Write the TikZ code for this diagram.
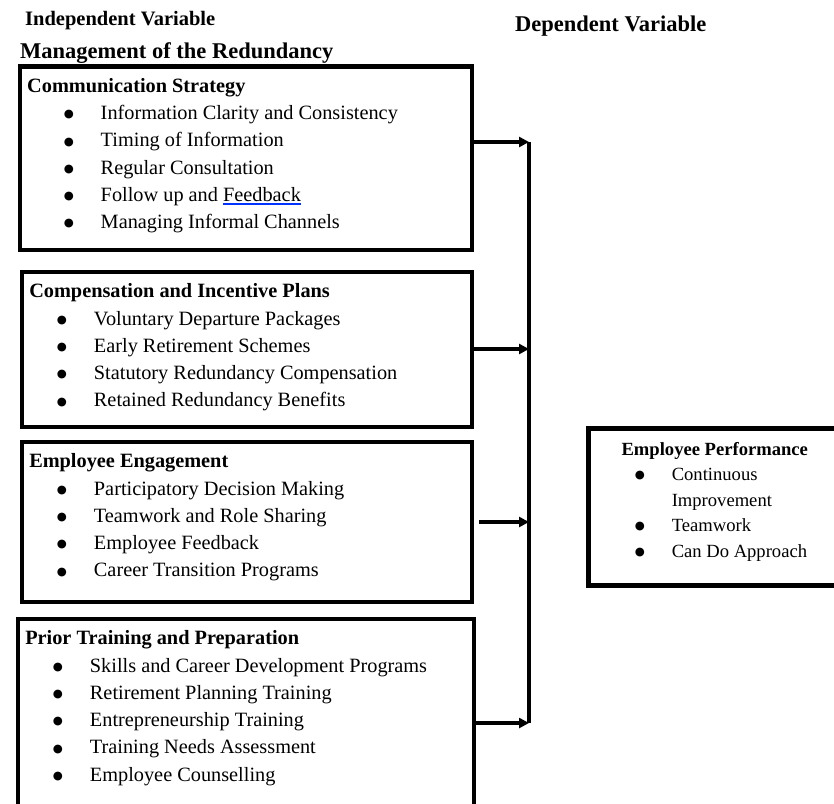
\documentclass[tikz,border=0pt]{standalone}
\usepackage{fontspec}
\setmainfont{Liberation Serif}
\newfontfamily\dotfont{DejaVu Sans}
\usepackage{xcolor}
\usepackage{tikz}
\usetikzlibrary{arrows.meta, positioning, calc}

\newlength{\bltin}
\newcommand{\bigdot}{\raisebox{1.8pt}{\dotfont\fontsize{11.5}{12}\selectfont ●}}
\newcommand{\blt}[1]{\par\hspace*{\bltin}\makebox[36.5pt][l]{\hspace*{-0.5pt}\bigdot}#1}
\newcommand{\catlist}[5]{%
  \parbox[c][#1][t]{#2}{\fontsize{20.3}{27.3}\selectfont\raggedright
    \setlength{\bltin}{#3}%
    \rule{0pt}{26pt}\hspace*{7.5pt}\textbf{#4}#5}}
\newcommand{\spellmark}[1]{\setbox0\hbox{#1}\rlap{\textcolor{blue!80!cyan}{\rule[-3.2pt]{\wd0}{1.2pt}}}\box0}

\begin{document}
\begin{tikzpicture}[
    x=1pt, y=-1pt,
    catbox/.style={draw, line width=4.5pt, inner sep=0pt, anchor=north west},
    header/.style={inner sep=0pt, anchor=base west},
    arrow/.style={-{Triangle[length=10pt,width=10pt]}, line width=3.5pt},
    bus/.style={line width=4.5pt}
]
    \useasboundingbox (0,0) rectangle (834,803);

    % Headings
    \node[header, font=\fontsize{20.5}{24}\selectfont\bfseries] (indep) at (25,25) {Independent Variable};
    \node[header, font=\fontsize{22.5}{26}\selectfont\bfseries] (mgmt) at (20,58) {Management of the Redundancy};
    \node[header, font=\fontsize{22.5}{26}\selectfont\bfseries] (dep) at (515,31) {Dependent Variable};

    % Independent variable boxes
    \node[catbox] (comm) at (17.5,64) {\catlist{183.5pt}{452pt}{44.5pt}{Communication Strategy}{%
        \blt{Information Clarity and Consistency}\blt{Timing of Information}\blt{Regular Consultation}%
        \blt{Follow up and \spellmark{Feedback}}\blt{Managing Informal Channels}}};
    \node[catbox] (comp) at (19.5,269.5) {\catlist{155pt}{450pt}{35.7pt}{Compensation and Incentive Plans}{%
        \blt{Voluntary Departure Packages}\blt{Early Retirement Schemes}%
        \blt{Statutory Redundancy Compensation}\blt{Retained Redundancy Benefits}}};
    \node[catbox] (engage) at (19.5,439.5) {\catlist{160pt}{450pt}{35.7pt}{Employee Engagement}{%
        \blt{Participatory Decision Making}\blt{Teamwork and Role Sharing}%
        \blt{Employee Feedback}\blt{Career Transition Programs}}};
    \node[catbox] (train) at (15.5,616.5) {\catlist{188.5pt}{456pt}{35.7pt}{Prior Training and Preparation}{%
        \blt{Skills and Career Development Programs}\blt{Retirement Planning Training}%
        \blt{Entrepreneurship Training}\blt{Training Needs Assessment}\blt{Employee Counselling}}};

    % Dependent variable box
    \node[catbox] (perf) at (586,426) {\parbox[c][157pt][t]{253pt}{\fontsize{18.6}{25.5}\selectfont
        \centering\rule{0pt}{27pt}\textbf{Employee Performance}\par
        \raggedright\setlength{\bltin}{47pt}%
        \blt{Continuous}\par\hspace*{\dimexpr\bltin+36.5pt\relax}Improvement%
        \blt{Teamwork}\blt{Can Do Approach}}};

    % Bus line
    \coordinate (b1) at (529,142);
    \coordinate (b2) at (529,349);
    \coordinate (b3) at (529,522);
    \coordinate (b4) at (529,723);
    \draw[bus] (b1) -- (b4);

    % Arrows from boxes to bus
    \draw[arrow] (comm.east |- b1) -- (b1);
    \draw[arrow] (comp.east |- b2) -- (b2);
    \draw[arrow] ([xshift=5pt]engage.east |- b3) -- (b3);
    \draw[arrow] (train.east |- b4) -- (b4);

\end{tikzpicture}
\end{document}
